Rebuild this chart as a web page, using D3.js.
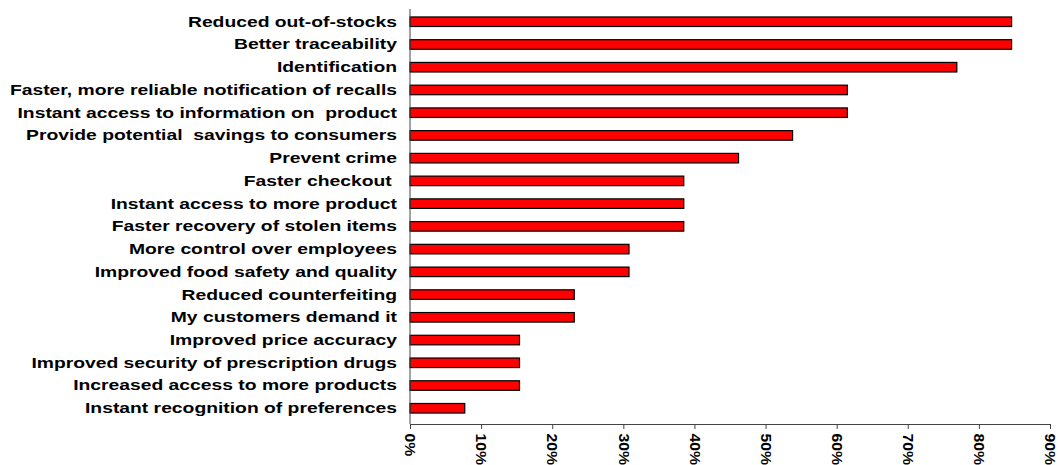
<!DOCTYPE html>
<html lang="en">
<head>
    <title>Benefits chart</title>
    <meta charset="utf-8"/>
    <script src="https://d3js.org/d3.v7.min.js"></script>
    <style>
        body { margin: 0; background: #fff; }
        text { font-family: "Liberation Sans", Arial, sans-serif; font-weight: bold; white-space: pre; }
    </style>
</head>
<body>
<div id="viz">
    <svg width="1058" height="465"></svg>
</div>

<script type="text/javascript">

    // categorias, de arriba hacia abajo
    const categories = [
        "Reduced out-of-stocks",
        "Better traceability",
        "Identification",
        "Faster, more reliable notification of recalls",
        "Instant access to information on  product",
        "Provide potential  savings to consumers",
        "Prevent crime",
        "Faster checkout ",
        "Instant access to more product",
        "Faster recovery of stolen items",
        "More control over employees",
        "Improved food safety and quality",
        "Reduced counterfeiting",
        "My customers demand it",
        "Improved price accuracy",
        "Improved security of prescription drugs",
        "Increased access to more products",
        "Instant recognition of preferences"
    ];

    // porcentajes
    const values = [0.846, 0.846, 0.769, 0.615, 0.615, 0.538, 0.462, 0.385, 0.385, 0.385,
        0.308, 0.308, 0.231, 0.231, 0.154, 0.154, 0.154, 0.077];

    const tickValues = [0, 0.1, 0.2, 0.3, 0.4, 0.5, 0.6, 0.7, 0.8, 0.9];

    const red = "#ff0000";
    const svg = d3.select("svg");

    const mLeft = 410, mRight = 1050, mTop = 9, mBottom = 424;

    const x = d3.scaleLinear().domain([0, 0.9]).range([mLeft, mRight]);
    const y = d3.scaleBand().domain(categories).range([mTop, 421]).paddingInner(0.58).paddingOuter(0.35);

    // barras
    svg.append("g")
        .selectAll("rect")
        .data(categories)
        .enter()
        .append("rect")
        .attr("x", x(0))
        .attr("y", d => y(d))
        .attr("width", (d, i) => x(values[i]) - x(0))
        .attr("height", y.bandwidth())
        .attr("fill", red)
        .attr("stroke", "#000")
        .attr("stroke-width", 1.2);

    // eje x
    const xAxis = d3.axisBottom(x)
        .tickValues(tickValues)
        .tickFormat(d3.format(".0%"))
        .tickSize(5)
        .tickSizeOuter(0);

    const gx = svg.append("g")
        .attr("transform", "translate(0," + mBottom + ")")
        .call(xAxis);
    gx.select(".domain").attr("stroke", "#444");
    gx.selectAll(".tick line").attr("stroke", "#444");
    gx.selectAll(".tick text")
        .attr("transform", "rotate(90) scale(1.05,1)")
        .attr("text-anchor", "start")
        .attr("x", 9)
        .attr("y", 0)
        .attr("dy", "0.35em")
        .style("font-size", "15px")
        .style("font-family", "Liberation Sans, Arial, sans-serif")
        .style("font-weight", "bold")
        .attr("fill", "#000");

    // eje y
    const yAxis = d3.axisLeft(y).tickSize(0).tickPadding(13);
    const gy = svg.append("g")
        .attr("transform", "translate(" + mLeft + ",0)")
        .call(yAxis);
    gy.select(".domain").attr("stroke", "#444").attr("d", "M0," + mTop + "V" + mBottom);
    gy.selectAll(".tick text")
        .attr("x", -13 / 1.245)
        .attr("transform", "scale(1.245,1)")
        .style("font-size", "15.5px")
        .style("font-family", "Liberation Sans, Arial, sans-serif")
        .style("font-weight", "bold")
        .attr("fill", "#000");

</script>
</body>
</html>
